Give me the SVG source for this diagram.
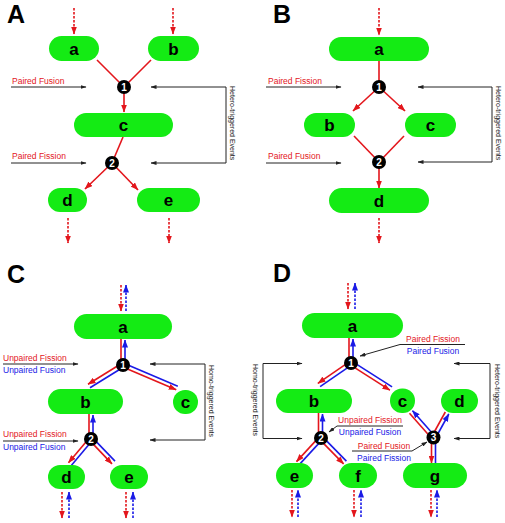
<svg xmlns="http://www.w3.org/2000/svg" width="505" height="523" viewBox="0 0 505 523">
<style>
text{font-family:"Liberation Sans",Arial,sans-serif}
.bg{fill:#fff}
.nd{fill:#14eb14}
.nl{font-size:17px;font-weight:bold;fill:#000;text-anchor:middle}
.pl{font-size:25px;font-weight:bold;fill:#000}
.ev{fill:#000}
.en{font-size:10px;font-weight:bold;fill:#fff;text-anchor:middle}
.r{stroke:#e3161c;stroke-width:1.6;fill:none}
.b{stroke:#1a1ae6;stroke-width:1.6;fill:none}
.k{stroke:#222;stroke-width:1;fill:none}
.d{stroke-dasharray:2.5 1.5}
.ra{marker-end:url(#mr)}
.ba{marker-end:url(#mb)}
.ka{marker-end:url(#mk)}
.kb{marker-start:url(#mk);marker-end:url(#mk)}
.tr{font-size:8.5px;fill:#e3161c}
.tb{font-size:8.5px;fill:#1a1ae6}
.tv{font-size:7px;fill:#222}
.m{text-anchor:middle}
</style>
<defs>
<marker id="mr" viewBox="0 0 8 6" refX="7.5" refY="3" markerWidth="8" markerHeight="6" markerUnits="userSpaceOnUse" orient="auto-start-reverse"><path d="M0,0L8,3L0,6z" fill="#e3161c"/></marker>
<marker id="mb" viewBox="0 0 8 6" refX="7.5" refY="3" markerWidth="8" markerHeight="6" markerUnits="userSpaceOnUse" orient="auto-start-reverse"><path d="M0,0L8,3L0,6z" fill="#1a1ae6"/></marker>
<marker id="mk" viewBox="0 0 6 4" refX="5.5" refY="2" markerWidth="6" markerHeight="4" markerUnits="userSpaceOnUse" orient="auto-start-reverse"><path d="M0,0L6,2L0,4z" fill="#222"/></marker>
</defs>
<rect class="bg" x="0" y="0" width="505" height="523"/>

<!-- ============ Panel labels ============ -->
<text class="pl" x="7" y="23">A</text>
<text class="pl" x="273" y="23">B</text>
<text class="pl" x="7" y="283">C</text>
<text class="pl" x="273" y="282">D</text>

<!-- ============ Connectors ============ -->
<g id="connectors">
<!-- Panel A -->
<line class="r" x1="97" y1="60" x2="124" y2="87"/>
<line class="r" x1="151" y1="60" x2="124" y2="87"/>
<line class="r ra" x1="124" y1="87" x2="124" y2="112"/>
<line class="r" x1="123" y1="137" x2="112" y2="163"/>
<line class="r ra" x1="112" y1="163" x2="85" y2="189"/>
<line class="r ra" x1="112" y1="163" x2="138" y2="190"/>
<line class="r d ra" x1="74" y1="8" x2="74" y2="34"/>
<line class="r d ra" x1="173" y1="8" x2="173" y2="34"/>
<line class="r d ra" x1="68" y1="218" x2="68" y2="243"/>
<line class="r d ra" x1="169" y1="218" x2="169" y2="243"/>
<line class="k ka" x1="11" y1="87" x2="86" y2="87"/>
<line class="k ka" x1="11" y1="163" x2="86" y2="163"/>
<polyline class="k kb" points="151,87 226,87 226,163 151,163"/>

<!-- Panel B -->
<line class="r" x1="379" y1="61" x2="379" y2="87"/>
<line class="r ra" x1="379" y1="87" x2="353" y2="111"/>
<line class="r ra" x1="379" y1="87" x2="405" y2="111"/>
<line class="r" x1="354" y1="136" x2="379" y2="162"/>
<line class="r" x1="404" y1="136" x2="379" y2="162"/>
<line class="r ra" x1="379" y1="162" x2="379" y2="188"/>
<line class="r d ra" x1="379" y1="8" x2="379" y2="35"/>
<line class="r d ra" x1="379" y1="218" x2="379" y2="243"/>
<line class="k ka" x1="266" y1="87" x2="341" y2="87"/>
<line class="k ka" x1="266" y1="163" x2="341" y2="163"/>
<polyline class="k kb" points="418,87 492,87 492,162 418,162"/>

<!-- Panel C -->
<line class="r" x1="121" y1="339" x2="121" y2="365"/>
<line class="b ba" x1="125" y1="365" x2="125" y2="340"/>
<line class="r ra" x1="121.9" y1="363.3" x2="88" y2="384.3"/>
<line class="b" x1="124" y1="366.7" x2="90" y2="387.7"/>
<line class="r ra" x1="122.2" y1="366.8" x2="176.2" y2="389.8"/>
<line class="b" x1="123.8" y1="363.2" x2="177.8" y2="386.2"/>
<line class="r" x1="89" y1="414" x2="89" y2="439"/>
<line class="b ba" x1="93" y1="439" x2="93" y2="415"/>
<line class="r ra" x1="89.5" y1="437.7" x2="68.5" y2="462.7"/>
<line class="b" x1="92.5" y1="440.3" x2="71.5" y2="465.3"/>
<line class="r ra" x1="89.6" y1="440.4" x2="112" y2="463.9"/>
<line class="b" x1="92.4" y1="437.6" x2="115" y2="461.1"/>
<line class="r d ra" x1="121" y1="285" x2="121" y2="311"/>
<line class="b d ba" x1="126" y1="311" x2="126" y2="285"/>
<line class="r d ra" x1="62" y1="492" x2="62" y2="518"/>
<line class="b d ba" x1="69" y1="518" x2="69" y2="492"/>
<line class="r d ra" x1="126" y1="492" x2="126" y2="518"/>
<line class="b d ba" x1="133" y1="518" x2="133" y2="492"/>
<line class="k ka" x1="3" y1="364" x2="78" y2="364"/>
<line class="k ka" x1="3" y1="441" x2="78" y2="441"/>
<polyline class="k kb" points="150,364 205,364 205,440 150,440"/>

<!-- Panel D -->
<line class="r" x1="349" y1="338" x2="349" y2="363"/>
<line class="b ba" x1="353" y1="363" x2="353" y2="339"/>
<line class="r ra" x1="349.9" y1="361.4" x2="317.9" y2="383.4"/>
<line class="b" x1="352.1" y1="364.6" x2="320.1" y2="386.6"/>
<line class="r ra" x1="349.9" y1="364.7" x2="389.9" y2="390.2"/>
<line class="b" x1="352.1" y1="361.3" x2="392.1" y2="386.8"/>
<line class="r" x1="318.5" y1="413" x2="318.5" y2="438"/>
<line class="b ba" x1="322.5" y1="438" x2="322.5" y2="414"/>
<line class="r ra" x1="319.5" y1="436.6" x2="296.5" y2="461.6"/>
<line class="b" x1="322.5" y1="439.4" x2="299.5" y2="464.4"/>
<line class="r ra" x1="319.6" y1="439.4" x2="343.6" y2="463.9"/>
<line class="b" x1="322.4" y1="436.6" x2="346.4" y2="461.1"/>
<line class="r" x1="409.5" y1="413.3" x2="432" y2="438.8"/>
<line class="b ba" x1="435" y1="436.2" x2="412.5" y2="410.7"/>
<line class="r" x1="445.3" y1="412" x2="431.8" y2="436.5"/>
<line class="b ba" x1="435.3" y1="438.5" x2="448.8" y2="414"/>
<line class="r ra" x1="431.5" y1="437.5" x2="431.5" y2="463"/>
<line class="b" x1="435.5" y1="437.5" x2="435.5" y2="463"/>
<line class="r d ra" x1="348" y1="283" x2="348" y2="309"/>
<line class="b d ba" x1="355" y1="309" x2="355" y2="283"/>
<line class="r d ra" x1="292" y1="490" x2="292" y2="517"/>
<line class="b d ba" x1="298" y1="517" x2="298" y2="490"/>
<line class="r d ra" x1="354" y1="490" x2="354" y2="517"/>
<line class="b d ba" x1="361" y1="517" x2="361" y2="490"/>
<line class="r d ra" x1="431" y1="490" x2="431" y2="517"/>
<line class="b d ba" x1="437" y1="517" x2="437" y2="490"/>
<line class="k" x1="400" y1="344.5" x2="465" y2="344.5"/>
<line class="k ka" x1="400" y1="344.5" x2="360" y2="356"/>
<line class="k" x1="337" y1="426" x2="403" y2="426"/>
<line class="k ka" x1="337" y1="426" x2="329" y2="432"/>
<line class="k" x1="352" y1="451" x2="412" y2="451"/>
<line class="k ka" x1="412" y1="451" x2="427" y2="442"/>
<polyline class="k kb" points="302,363.5 263,363.5 263,438.5 302,438.5"/>
<polyline class="k kb" points="454,363.5 490,363.5 490,438.5 454,438.5"/>
</g>

<!-- ============ Connector labels ============ -->
<g id="labels">
<text class="tr" x="12" y="84">Paired Fusion</text>
<text class="tr" x="12" y="159">Paired Fission</text>
<text class="tv" transform="translate(229.5,86) rotate(90)">Hetero-triggered Events</text>
<text class="tr" x="268" y="84">Paired Fission</text>
<text class="tr" x="268" y="159">Paired Fusion</text>
<text class="tv" transform="translate(495.5,86) rotate(90)">Hetero-triggered Events</text>
<text class="tr" x="3" y="361">Unpaired Fission</text>
<text class="tb" x="3" y="373">Unpaired Fusion</text>
<text class="tr" x="3" y="436.5">Unpaired Fission</text>
<text class="tb" x="3" y="449.5">Unpaired Fusion</text>
<text class="tv" transform="translate(208.5,365) rotate(90)">Homo-triggered Events</text>
<text class="tr m" x="433" y="342">Paired Fission</text>
<text class="tb m" x="433" y="354">Paired Fusion</text>
<text class="tr m" x="370" y="423">Unpaired Fission</text>
<text class="tb m" x="370" y="435">Unpaired Fusion</text>
<text class="tr m" x="384" y="449">Paired Fusion</text>
<text class="tb m" x="384" y="460.5">Paired Fission</text>
<text class="tv" transform="translate(252.5,364) rotate(90)">Homo-triggered Events</text>
<text class="tv" transform="translate(494.5,364) rotate(90)">Hetero-triggered Events</text>
</g>

<!-- ============ Nodes: Panel A ============ -->
<g id="A-a"><rect class="nd" x="49" y="36" width="50" height="25" rx="12.5"/><text class="nl" x="74" y="54.5">a</text></g>
<g id="A-b"><rect class="nd" x="148" y="36" width="51" height="25" rx="12.5"/><text class="nl" x="173.5" y="54.5">b</text></g>
<g id="A-c"><rect class="nd" x="74" y="113" width="99" height="24" rx="12"/><text class="nl" x="123.5" y="131">c</text></g>
<g id="A-d"><rect class="nd" x="48" y="188" width="39" height="24" rx="12"/><text class="nl" x="67.5" y="206">d</text></g>
<g id="A-e"><rect class="nd" x="137" y="188" width="63" height="24" rx="12"/><text class="nl" x="168.5" y="206">e</text></g>
<g id="A-ev1"><circle class="ev" cx="124" cy="87" r="7"/><text class="en" x="124" y="90.6">1</text></g>
<g id="A-ev2"><circle class="ev" cx="112" cy="163" r="7"/><text class="en" x="112" y="166.6">2</text></g>

<!-- ============ Nodes: Panel B ============ -->
<g id="B-a"><rect class="nd" x="329" y="37" width="100" height="24" rx="12"/><text class="nl" x="379" y="55">a</text></g>
<g id="B-b"><rect class="nd" x="304" y="113" width="51" height="24" rx="12"/><text class="nl" x="329.5" y="131">b</text></g>
<g id="B-c"><rect class="nd" x="405" y="113" width="51" height="24" rx="12"/><text class="nl" x="430.5" y="131">c</text></g>
<g id="B-d"><rect class="nd" x="329" y="188" width="100" height="25" rx="12.5"/><text class="nl" x="379" y="206.5">d</text></g>
<g id="B-ev1"><circle class="ev" cx="379" cy="87" r="7"/><text class="en" x="379" y="90.6">1</text></g>
<g id="B-ev2"><circle class="ev" cx="379" cy="162" r="7"/><text class="en" x="379" y="165.6">2</text></g>

<!-- ============ Nodes: Panel C ============ -->
<g id="C-a"><rect class="nd" x="74" y="314" width="98" height="25" rx="12.5"/><text class="nl" x="123" y="332.5">a</text></g>
<g id="C-b"><rect class="nd" x="48" y="389" width="75" height="25" rx="12.5"/><text class="nl" x="85.5" y="407.5">b</text></g>
<g id="C-c"><rect class="nd" x="173" y="390" width="25" height="24" rx="12"/><text class="nl" x="185.5" y="408">c</text></g>
<g id="C-d"><rect class="nd" x="48" y="465" width="37" height="24" rx="12"/><text class="nl" x="66.5" y="483">d</text></g>
<g id="C-e"><rect class="nd" x="110" y="465" width="38" height="24" rx="12"/><text class="nl" x="129" y="483">e</text></g>
<g id="C-ev1"><circle class="ev" cx="123" cy="365" r="7"/><text class="en" x="123" y="368.6">1</text></g>
<g id="C-ev2"><circle class="ev" cx="91" cy="439" r="7"/><text class="en" x="91" y="442.6">2</text></g>

<!-- ============ Nodes: Panel D ============ -->
<g id="D-a"><rect class="nd" x="302" y="313" width="101" height="25" rx="12.5"/><text class="nl" x="352.5" y="331.5">a</text></g>
<g id="D-b"><rect class="nd" x="276" y="389" width="76" height="24" rx="12"/><text class="nl" x="314" y="407">b</text></g>
<g id="D-c"><rect class="nd" x="390" y="388.5" width="25" height="24.5" rx="12"/><text class="nl" x="402.5" y="407">c</text></g>
<g id="D-d"><rect class="nd" x="441" y="389" width="37" height="24" rx="12"/><text class="nl" x="459.5" y="407">d</text></g>
<g id="D-e"><rect class="nd" x="276" y="463" width="37" height="25" rx="12.5"/><text class="nl" x="294.5" y="481.5">e</text></g>
<g id="D-f"><rect class="nd" x="339" y="463" width="38" height="25" rx="12.5"/><text class="nl" x="358" y="481.5">f</text></g>
<g id="D-g"><rect class="nd" x="403" y="463" width="64" height="25" rx="12.5"/><text class="nl" x="435" y="481.5">g</text></g>
<g id="D-ev1"><circle class="ev" cx="351" cy="363" r="7"/><text class="en" x="351" y="366.6">1</text></g>
<g id="D-ev2"><circle class="ev" cx="321" cy="438" r="7"/><text class="en" x="321" y="441.6">2</text></g>
<g id="D-ev3"><circle class="ev" cx="433.5" cy="437.5" r="7"/><text class="en" x="433.5" y="441.1">3</text></g>
</svg>
